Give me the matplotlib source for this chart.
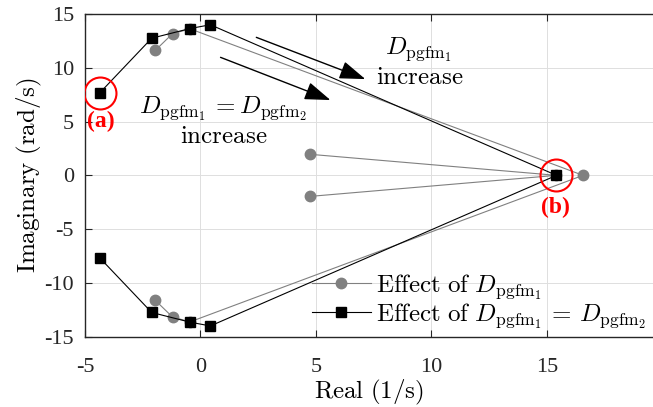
import matplotlib
matplotlib.use("Agg")
import matplotlib.pyplot as plt
import numpy as np

plt.rcParams['mathtext.fontset'] = 'cm'
plt.rcParams['font.family'] = ['Liberation Serif', 'DejaVu Serif']

# ---- data ----
# Effect of D_pgfm1 (gray circles): complex pair branch and real branch
gray_branch_re = [-1.95, -1.21, -0.45, 16.57, -0.45, -1.21, -1.95]
gray_branch_im = [11.63, 13.17, 13.62, 0.0, -13.62, -13.17, -11.63]
gray_real_re = [4.73, 15.42, 4.73]
gray_real_im = [1.96, 0.0, -1.96]

# Effect of D_pgfm1 = D_pgfm2 (black squares)
black_re = [-4.36, -2.11, -0.45, 0.43, 15.42, 0.43, -0.45, -2.11, -4.36]
black_im = [7.67, 12.75, 13.65, 14.0, 0.0, -14.0, -13.65, -12.75, -7.67]

xticks = [-5, 0, 5, 10, 15]
yticks = [-15, -10, -5, 0, 5, 10, 15]

# highlighted points
pt_a = (-4.36, 7.67)
pt_b = (15.42, 0.0)

fig = plt.figure(figsize=(6.53, 4.07), dpi=100)
ax = fig.add_axes([85/653, 1-336.7/407, 1-85/653, (336.7-14)/407])

gray = '#808080'
ax.plot(gray_branch_re, gray_branch_im, '-', color=gray, lw=0.8, marker='o',
        ms=7.5, mfc=gray, mec=gray, zorder=3)
ax.plot(gray_real_re, gray_real_im, '-', color=gray, lw=0.8, marker='o',
        ms=7.5, mfc=gray, mec=gray, zorder=3)
ax.plot(black_re, black_im, '-', color='black', lw=0.8, marker='s',
        ms=6.8, mfc='black', mec='black', zorder=4)

# legend proxies
h1, = ax.plot([], [], '-', color=gray, lw=0.8, marker='o', ms=7.5, mfc=gray, mec=gray)
h2, = ax.plot([], [], '-', color='black', lw=0.8, marker='s', ms=6.8, mfc='black', mec='black')

# red circles
for p in (pt_a, pt_b):
    ax.plot([p[0]], [p[1]], 'o', ms=23, mfc='none', mec='red', mew=1.5, zorder=5)
ax.text(-4.3, 5.0, '(a)', color='red', fontsize=17, fontweight='bold',
        ha='center', va='center')
ax.text(15.37, -3.0, '(b)', color='red', fontsize=17, fontweight='bold',
        ha='center', va='center')

# arrows
arrow_kw = dict(arrowstyle='-|>,head_length=0.8,head_width=0.28', color='black',
                lw=1.0, mutation_scale=20, shrinkA=0, shrinkB=0)
ax.annotate('', xy=(7.14, 8.95), xytext=(2.42, 12.83), arrowprops=arrow_kw)
ax.annotate('', xy=(5.63, 7.0), xytext=(0.87, 10.97), arrowprops=arrow_kw)

ax.text(9.44, 11.7, r'$D_{\mathrm{pgfm}_1}$', fontsize=18, ha='center', va='center')
ax.text(9.5, 9.05, r'$\mathrm{increase}$', fontsize=18, ha='center', va='center')
ax.text(0.97, 6.25, r'$D_{\mathrm{pgfm}_1}\,{=}D_{\mathrm{pgfm}_2}$', fontsize=18,
        ha='center', va='center')
ax.text(1.0, 3.6, r'$\mathrm{increase}$', fontsize=18, ha='center', va='center')

ax.set_xlim(-5, 19.6)
ax.set_ylim(-15, 15)
ax.set_xticks(xticks)
ax.set_yticks(yticks)
ax.set_xticklabels([str(t) for t in xticks])
ax.set_yticklabels([str(t) for t in yticks])
ax.tick_params(direction='in', top=True, right=False, labelsize=16,
               length=5, width=0.8, colors='#262626')
ax.tick_params(axis='x', pad=15)
ax.tick_params(axis='y', pad=8)
ax.grid(True, color='#dedede', lw=0.7)
ax.set_axisbelow(True)
for s in ('left', 'bottom', 'top'):
    ax.spines[s].set_color('#262626')
    ax.spines[s].set_linewidth(1.0)
ax.spines['right'].set_visible(False)

ax.set_xlabel(r'$\mathrm{Real\ (1/s)}$', fontsize=18, labelpad=1)
ax.set_ylabel(r'$\mathrm{Imaginary\ (rad/s)}$', fontsize=18, labelpad=0)

leg = fig.legend([h1, h2],
                 [r'$\mathrm{Effect\ of}\ D_{\mathrm{pgfm}_1}$',
                  r'$\mathrm{Effect\ of}\ D_{\mathrm{pgfm}_1}\,=\,D_{\mathrm{pgfm}_2}$'],
                 loc='upper left', bbox_to_anchor=(312/653, 1-272/407),
                 bbox_transform=fig.transFigure, frameon=False, fontsize=18,
                 borderpad=0, borderaxespad=0, handlelength=2.35,
                 handletextpad=0.2, labelspacing=0.0)

fig.savefig('out.png', dpi=100)
